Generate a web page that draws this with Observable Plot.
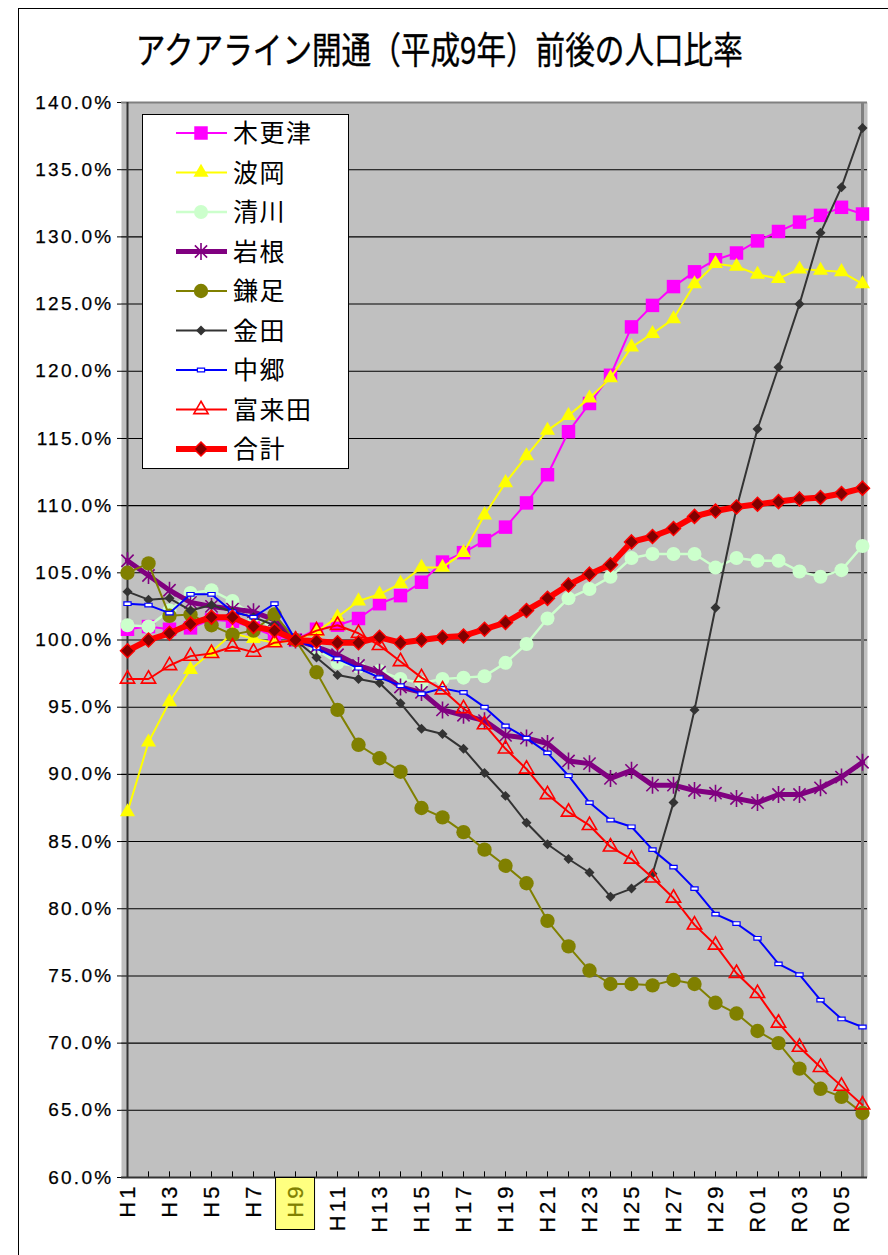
<!DOCTYPE html>
<html><head><meta charset="utf-8">
<script src="https://cdn.jsdelivr.net/npm/d3@7"></script>
<script src="https://cdn.jsdelivr.net/npm/@observablehq/plot@0.6"></script>
<style>
body{margin:0;background:#fff;}
#wrap{position:relative;width:888px;height:1255px;overflow:hidden;background:#fff;}
#chart{position:absolute;left:0;top:0;}
#title{position:absolute;left:0;width:878px;top:30px;text-align:center;}
#title span{display:inline-block;font-family:"Noto Sans CJK JP",sans-serif;font-size:37px;line-height:1;transform:scaleX(0.8);color:#000;white-space:nowrap;-webkit-text-stroke:0.4px #000;}
#legend{position:absolute;left:142px;top:114px;}
#frame{position:absolute;left:18px;top:8px;width:900px;height:1300px;border-left:1.5px solid #000;border-top:1px solid #000;}
.ylab text{letter-spacing:2.3px;font-size:19px;stroke:#000;stroke-width:0.25px;}
.xlab text{letter-spacing:3px;font-size:22px;stroke:currentColor;stroke-width:0.25px;}
</style></head><body>
<div id="wrap"><div id="frame"></div><div id="chart"></div><div id="title"><span>アクアライン開通（平成9年）前後の人口比率</span></div><div id="legend"></div></div>
<script>
const years = ["H1","H2","H3","H4","H5","H6","H7","H8","H9","H10","H11","H12","H13","H14","H15","H16","H17","H18","H19","H20","H21","H22","H23","H24","H25","H26","H27","H28","H29","H30","R01","R02","R03","R04","R05","R06"];
const xTickLabels = ["H1","H3","H5","H7","H9","H11","H13","H15","H17","H19","H21","H23","H25","H27","H29","R01","R03","R05"];
const yTicks = [60,65,70,75,80,85,90,95,100,105,110,115,120,125,130,135,140];
const highlightLabel = "H9";

const kisarazu = [100.8,101.0,100.8,100.9,101.5,101.4,100.9,100.3,100.0, 100.8,101.1,101.6,102.7,103.3,104.3,105.8,106.5,107.4,108.4,110.2,112.3, 115.5,117.6,119.7,123.3,124.9,126.3,127.4,128.3,128.8, 129.7,130.4,131.1,131.6,132.2,131.7];
const namioka = [87.2,92.4,95.4,97.8,99.1,100.5,100.1,99.8,100.0, 100.6,101.7,102.9,103.4,104.2,105.4,105.4,106.5,109.3,111.7,113.7,115.6, 116.7,118.0,119.5,121.8,122.8,123.9,126.5,128.0,127.8, 127.2,126.9,127.6,127.5,127.4,126.5];
const kiyokawa = [101.1,101.0,102.2,103.5,103.7,102.9,101.8,100.8,100.0, 99.3,98.3,98.0,97.7,97.1,96.8,97.1,97.2,97.3,98.3,99.7,101.6, 103.1,103.8,104.7,106.1,106.4,106.4,106.4,105.4,106.1, 105.9,105.9,105.1,104.7,105.2,107.0];
const iwane = [105.9,104.8,103.7,102.8,102.5,102.3,102.1,101.5,100.0, 99.5,98.9,98.1,97.6,96.5,96.1,94.8,94.4,94.0,92.9,92.7,92.3, 91.0,90.8,89.7,90.3,89.2,89.2,88.8,88.6,88.2, 87.9,88.5,88.5,89.0,89.8,90.9];
const kamatari = [105.0,105.7,101.8,101.9,101.1,100.4,100.7,101.9,100.0, 97.6,94.8,92.2,91.2,90.2,87.5,86.8,85.7,84.4,83.2,81.9,79.1, 77.2,75.4,74.4,74.4,74.3,74.7,74.4,73.0,72.2, 70.9,70.0,68.1,66.6,66.0,64.8];
const kaneda = [103.6,103.0,103.1,102.2,102.6,102.1,101.7,101.1,100.0, 98.7,97.4,97.1,96.8,95.3,93.4,93.0,91.9,90.1,88.4,86.4,84.8, 83.7,82.7,80.9,81.5,82.6,87.9,94.8,102.4,109.8, 115.7,120.3,125.0,130.3,133.7,138.1];
const nakago = [102.7,102.6,102.0,103.4,103.4,102.1,101.7,102.7,100.0, 99.4,98.6,97.9,97.2,96.6,96.0,96.4,96.1,95.0,93.6,92.7,91.6, 89.9,87.9,86.6,86.1,84.4,83.1,81.5,79.6,78.9, 77.8,75.9,75.1,73.2,71.8,71.2];
const fukuta = [97.1,97.1,98.1,98.8,99.0,99.5,99.1,99.8,100.0, 100.7,101.1,100.5,99.6,98.4,97.2,96.3,94.9,93.7,91.9,90.4,88.5, 87.2,86.2,84.6,83.7,82.3,80.8,78.8,77.3,75.2, 73.7,71.5,69.7,68.2,66.8,65.4];
const total = [99.2,100.0,100.5,101.2,101.7,101.7,101.0,100.7,100.0, 99.9,99.8,99.8,100.2,99.8,100.0,100.2,100.3,100.8,101.3,102.2,103.1, 104.1,104.9,105.6,107.3,107.7,108.3,109.2,109.6,109.9, 110.1,110.3,110.5,110.6,110.9,111.3];

// custom marker shapes
const symAsterisk = {draw(ctx, size){const r=Math.sqrt(size/Math.PI);const d=r*0.72;ctx.moveTo(0,-r);ctx.lineTo(0,r);ctx.moveTo(-d,-d);ctx.lineTo(d,d);ctx.moveTo(-d,d);ctx.lineTo(d,-d);}};
const symDash = {draw(ctx, size){const r=Math.sqrt(size/Math.PI);ctx.rect(-r,-r*0.5,2*r,r);}};

const series = [
  {name:"木更津", values:kisarazu, color:"#ff00ff", lw:2, sym:d3.symbolSquare, r:7.6, fill:"#ff00ff", stroke:"none", sw:0},
  {name:"波岡", values:namioka, color:"#ffff00", lw:2, sym:d3.symbolTriangle, r:5.6, fill:"#ffff00", stroke:"none", sw:0},
  {name:"清川", values:kiyokawa, color:"#ccffcc", lw:2.5, sym:d3.symbolCircle, r:7, fill:"#ccffcc", stroke:"none", sw:0},
  {name:"岩根", values:iwane, color:"#800080", lw:5, sym:symAsterisk, r:8.5, fill:"none", stroke:"#800080", sw:1.6},
  {name:"鎌足", values:kamatari, color:"#808000", lw:2, sym:d3.symbolCircle, r:7.2, fill:"#808000", stroke:"none", sw:0},
  {name:"金田", values:kaneda, color:"#333333", lw:2, sym:d3.symbolDiamond2, r:4.5, fill:"#333333", stroke:"none", sw:0},
  {name:"中郷", values:nakago, color:"#0000ff", lw:2, sym:symDash, r:3.6, fill:"#ffffff", stroke:"#0000ff", sw:1.2},
  {name:"富来田", values:fukuta, color:"#ff0000", lw:2, sym:d3.symbolTriangle, r:5.3, fill:"none", stroke:"#ff0000", sw:1.6},
  {name:"合計", values:total, color:"#ff0000", lw:6, sym:d3.symbolDiamond2, r:6.3, fill:"#800000", stroke:"#ff0000", sw:1.5}
];

const seriesMarks = series.flatMap(s => {
  const rows = years.map((y,i) => ({year:y, value:s.values[i]}));
  return [
    Plot.line(rows, {x:"year", y:"value", stroke:s.color, strokeWidth:s.lw, strokeLinejoin:"round"}),
    Plot.dot(rows, {x:"year", y:"value", symbol:s.sym, r:s.r, fill:s.fill, stroke:s.stroke, strokeWidth:s.sw})
  ];
});

const chart = Plot.plot({
  width: 888, height: 1255,
  marginLeft: 121, marginRight: 21, marginTop: 102, marginBottom: 78,
  style: {fontFamily: "'Liberation Sans', Arial, sans-serif", background: "transparent", overflow: "visible"},
  x: {type: "point", domain: years, padding: 0},
  y: {domain: [60, 140]},
  marks: [
    Plot.frame({fill: "#c0c0c0", stroke: "none"}),
    Plot.ruleY(yTicks.filter(v => v > 60 && v < 140), {y: d => d, stroke: "#000", strokeWidth: 1.1}),
    Plot.ruleX(years, {x: d => d, y1: 60, y2: 60.42, stroke: "#000", strokeWidth: 1}),
    Plot.ruleY([140], {y: d => d, stroke: "#808080", strokeWidth: 2}),
    Plot.ruleX([years[years.length-1]], {x: d => d, stroke: "#808080", strokeWidth: 3}),
    Plot.ruleX([years[0]], {x: d => d, stroke: "#333", strokeWidth: 2}),
    Plot.ruleY([60], {y: d => d, stroke: "#333", strokeWidth: 2}),
    Plot.axisY({ticks: yTicks, tickFormat: d => d.toFixed(1) + "%", tickSize: 4, tickPadding: 4, fontSize: 19, className: "ylab", label: null}),
    Plot.axisX({ticks: xTickLabels, tickRotate: -90, tickSize: 0, tickPadding: 6, fontSize: 22, className: "xlab", label: null}),
    ...seriesMarks
  ]
});
document.getElementById("chart").appendChild(chart);

// highlight box for the H9 label (placed in screen space from the label's own box)
const svgBox = chart.getBoundingClientRect();
d3.select(chart).selectAll("text").each(function(){
  if (this.textContent === highlightLabel) {
    const tb = this.getBoundingClientRect();
    const cx = (tb.left + tb.right) / 2 - svgBox.left;
    const top = tb.top - svgBox.top;
    const rect = document.createElementNS("http://www.w3.org/2000/svg", "rect");
    rect.setAttribute("x", cx - 19.5);
    rect.setAttribute("y", top - 6);
    rect.setAttribute("width", 39);
    rect.setAttribute("height", 52);
    rect.setAttribute("fill", "#ffff80");
    rect.setAttribute("stroke", "#000");
    rect.setAttribute("stroke-width", "1");
    let top_g = this;
    while (top_g.parentNode !== chart) top_g = top_g.parentNode;
    chart.insertBefore(rect, top_g);
    this.setAttribute("fill", "#808000");
    this.style.color = "#808000";
  }
});

// legend
const lg = d3.select("#legend").append("svg").attr("width", 208).attr("height", 356);
lg.append("rect").attr("x", 0.5).attr("y", 0.5).attr("width", 206).attr("height", 354).attr("fill", "#fff").attr("stroke", "#000");
series.forEach((s, i) => {
  const y = 19 + i * 39.5;
  const g = lg.append("g").attr("transform", `translate(0,${y})`);
  g.append("line").attr("x1", 34).attr("x2", 85).attr("y1", 0).attr("y2", 0).attr("stroke", s.color).attr("stroke-width", s.lw);
  g.append("path").attr("transform", "translate(59,0)").attr("d", d3.symbol().type(s.sym).size(s.r * s.r * Math.PI)())
    .attr("fill", s.fill).attr("stroke", s.stroke === "none" ? null : s.stroke).attr("stroke-width", s.sw);
  g.append("text").attr("x", 91).attr("y", 9).text(s.name)
    .attr("font-family", "'Noto Sans CJK JP', sans-serif").attr("font-size", 25).attr("letter-spacing", 1.5).attr("fill", "#000");
});
</script>
</body></html>
